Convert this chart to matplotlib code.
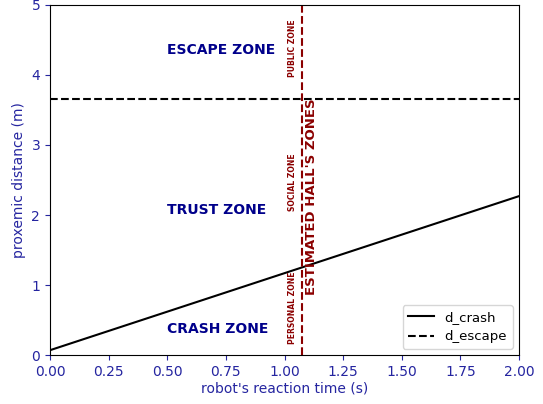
import matplotlib
matplotlib.use("Agg")
import matplotlib.pyplot as plt
import numpy as np

# reaction time (s) and corresponding distances (m)
t_reaction = [0.0, 2.0]
d_crash = [0.07, 2.27]
d_escape = 3.66
t_hall = 1.075

zone_labels = ["ESCAPE ZONE", "TRUST ZONE", "CRASH ZONE"]
zone_y = [4.35, 2.07, 0.37]
hall_labels = ["PUBLIC ZONE", "SOCIAL ZONE", "PERSONAL ZONE"]
hall_y = [4.38, 2.47, 0.67]

tick_color = "#2525a0"

fig = plt.figure(figsize=(5.43, 4.04), dpi=100)
ax = fig.add_axes([0.092, 0.121, 0.864, 0.867])

ax.plot(t_reaction, d_crash, color="black", linestyle="-", label="d_crash")
ax.axhline(d_escape, color="black", linestyle="--", label="d_escape")
ax.axvline(t_hall, color="#8b0000", linestyle="--", linewidth=1.5)

for lab, y in zip(zone_labels, zone_y):
    ax.text(0.5, y, lab, color="#00008b", fontweight="bold", fontsize=10,
            ha="left", va="center")

for lab, y in zip(hall_labels, hall_y):
    ax.text(1.036, y, lab, color="#8b0000", fontweight="bold", fontsize=5.5,
            rotation=90, ha="center", va="center")

ax.text(1.113, 2.26, "ESTIMATED HALL'S ZONES", color="#8b0000",
        fontweight="bold", fontsize=9.5, rotation=90, ha="center", va="center")

ax.set_xlim(0, 2)
ax.set_ylim(0, 5)
ax.set_xticks(np.arange(0, 2.01, 0.25))
ax.set_yticks(np.arange(0, 6, 1))
ax.tick_params(colors=tick_color, labelcolor=tick_color)
for s in ax.spines.values():
    s.set_color("black")
ax.set_xlabel("robot's reaction time (s)", color=tick_color, labelpad=2)
ax.set_ylabel("proxemic distance (m)", color=tick_color)
ax.legend(loc="lower right", fontsize=9.5)

fig.savefig("out.png", dpi=100)
